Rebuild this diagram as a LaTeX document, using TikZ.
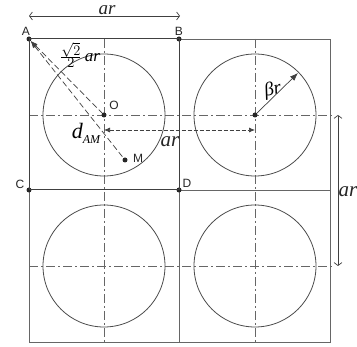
\documentclass[tikz,border=0pt]{standalone}
\usepackage{fontspec}
\setmainfont{Liberation Sans}
\newfontfamily\tms{Liberation Serif}
\usetikzlibrary{arrows.meta}
\begin{document}
\begin{tikzpicture}[x=1pt,y=-1pt,
  dot/.style={circle,fill=black!85,inner sep=0pt,minimum size=5pt},
  gridline/.style={draw=black!60,line width=0.8pt},
  framebox/.style={draw=black!75,line width=1.0pt},
  centerline/.style={draw=black!60,line width=0.8pt,dash pattern=on 9pt off 3pt on 2pt off 3pt},
  wheel/.style={draw=black!70,line width=0.8pt},
  dimline/.style={draw=black!75,line width=0.7pt},
  ptlabel/.style={font=\fontsize{12}{12}\selectfont,text=black!85,inner sep=0pt},
  mathlabel/.style={font=\tms\itshape\fontsize{21}{21}\selectfont,text=black!85,inner sep=0pt},
  openarrows/.style={{Straight Barb[length=3pt,width=8pt]}-{Straight Barb[length=3pt,width=8pt]}},
  fillarrows/.style={{Latex[length=6pt,width=5pt]}-{Latex[length=6pt,width=5pt]}}
]
\useasboundingbox (0,0) rectangle (357,347);
\fill[white] (0,0) rectangle (357,347);

% corner coordinates
\coordinate (E) at (330,39);
\coordinate (F) at (330,190);
\coordinate (G) at (29,342);
\coordinate (H) at (179,342);
\coordinate (K) at (330,342);

% grid
\draw[gridline] (179,39) -- (E) -- (K) -- (G) -- (29,190);
\draw[gridline] (179,190) -- (F);
\draw[gridline] (179,190) -- (H);

% center lines
\coordinate (h1a) at (29,115);  \coordinate (h1b) at (333,115);
\coordinate (h2a) at (29,266);  \coordinate (h2b) at (333,266);
\coordinate (v1a) at (104,39);  \coordinate (v1b) at (104,342);
\coordinate (v2a) at (255,39);  \coordinate (v2b) at (255,342);
\draw[centerline] (h1a) -- (h1b);
\draw[centerline] (h2a) -- (h2b);
\draw[centerline] (v1a) -- (v1b);
\draw[centerline] (v2a) -- (v2b);

% circles
\coordinate (Q) at (104,266);
\coordinate (R) at (255,266);
\draw[wheel] (104,115) circle[radius=61pt];
\draw[wheel] (255,115) circle[radius=61pt];
\draw[wheel] (Q) circle[radius=61pt];
\draw[wheel] (R) circle[radius=61pt];

% points
\node[dot] (A) at (29,39) {};
\node[dot] (B) at (179,39) {};
\node[dot] (C) at (29,190) {};
\node[dot] (D) at (179,190) {};
\node[dot] (O) at (104,115) {};
\node[dot] (P) at (255,115) {};
\node[dot] (M) at (125,160) {};

% first square
\draw[framebox] (A.center) -- (B.center) -- (D.center) -- (C.center) -- cycle;

\node[ptlabel] at (26,31) {A};
\node[ptlabel] at (179,31) {B};
\node[ptlabel] at (20,184) {C};
\node[ptlabel] at (187,183) {D};
\node[ptlabel] at (114,105) {O};
\node[ptlabel] at (138,158) {M};

% top dimension
\coordinate (t1) at (29,16);
\coordinate (t2) at (180,16);
\draw[dimline,openarrows] (t1) -- (t2);
\node[mathlabel,font=\tms\itshape\fontsize{19}{19}\selectfont] at (107,10.5) {ar};

% right dimension
\coordinate (r1) at (338,115);
\coordinate (r2) at (338,266);
\draw[dimline,openarrows] (r1) -- (r2);
\node[mathlabel] at (348,192) {ar};

% horizontal dashed dimension between centres
\coordinate (c1) at (104,130);
\coordinate (c2) at (255,130);
\draw[dimline,fillarrows,dash pattern=on 4pt off 2pt] (c1) -- (c2);
\node[mathlabel] at (170,142) {ar};

% radius
\coordinate (rr) at (298,73);
\draw[dimline,-{Latex[length=8pt,width=6pt]}] (P) -- (rr);
\node[font=\tms\itshape\fontsize{19}{19}\selectfont,rotate=12,inner sep=0pt] at (273,90) {βr};

% diagonal distances
\draw[dimline,dash pattern=on 6pt off 3pt,{Latex[length=7pt,width=5pt]}-] (A) -- (O);
\draw[dimline,dash pattern=on 6pt off 3pt,{Latex[length=7pt,width=5pt]}-] (A) -- (M);
\node[inner sep=0pt,anchor=west] at (60,55) {\fontsize{19}{19}\selectfont$\frac{\sqrt{2}}{2}$\,{\tms\itshape\fontsize{17}{17}\selectfont ar}};
\node[inner sep=0pt] at (86,133) {\tms\itshape\fontsize{22}{22}\selectfont d\raisebox{-5pt}{\fontsize{12}{12}\selectfont AM}};
\end{tikzpicture}
\end{document}
